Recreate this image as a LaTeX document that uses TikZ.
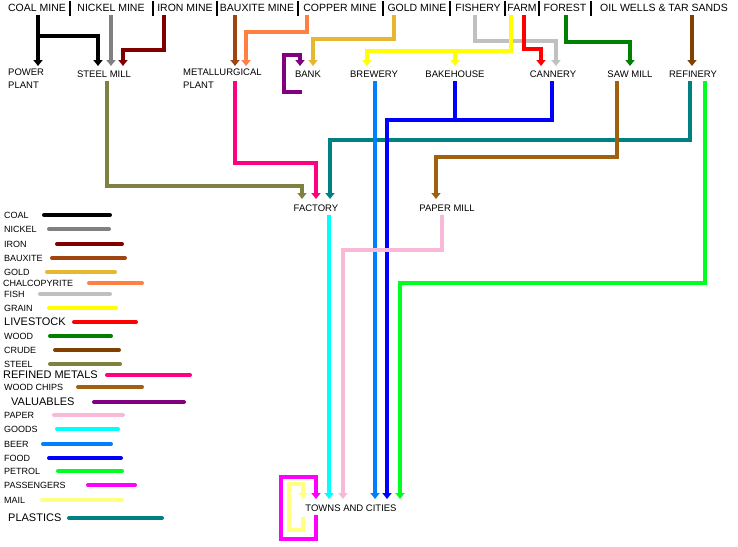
\documentclass[tikz,border=0pt]{standalone}
\usepackage{fontspec}
\setmainfont{Liberation Sans}
\usetikzlibrary{arrows.meta}
\definecolor{cnickel}{HTML}{808080}
\definecolor{ciron}{HTML}{800000}
\definecolor{cbaux}{HTML}{A0450F}
\definecolor{cgold}{HTML}{E6B832}
\definecolor{ccopper}{HTML}{FF8040}
\definecolor{cfish}{HTML}{C0C0C0}
\definecolor{cgrain}{HTML}{FFFF00}
\definecolor{clive}{HTML}{FF0000}
\definecolor{cwood}{HTML}{008000}
\definecolor{ccrude}{HTML}{804000}
\definecolor{csteel}{HTML}{808040}
\definecolor{crefined}{HTML}{FF0080}
\definecolor{cchips}{HTML}{A06010}
\definecolor{cval}{HTML}{800080}
\definecolor{cpaper}{HTML}{F8B8D8}
\definecolor{cgoods}{HTML}{00FFFF}
\definecolor{cbeer}{HTML}{0080FF}
\definecolor{cfood}{HTML}{0000FF}
\definecolor{cpetrol}{HTML}{00FF20}
\definecolor{cpass}{HTML}{FF00FF}
\definecolor{cmail}{HTML}{FFFF80}
\definecolor{cplast}{HTML}{008080}
\begin{document}
\begin{tikzpicture}[x=1pt,y=-1pt,
  flow/.style={line width=4pt,-{Triangle[width=9pt,length=6pt]}},
  plain/.style={line width=4pt},
  leg/.style={line width=4pt,line cap=round},
  top/.style={font=\fontsize{10.5}{11}\selectfont,inner sep=0pt},
  lab/.style={font=\fontsize{9.5}{13}\selectfont,inner sep=0pt,align=left},
  ltxt/.style={font=\fontsize{9}{10}\selectfont,inner sep=0pt,anchor=west},
  btxt/.style={font=\fontsize{11}{12}\selectfont,inner sep=0pt,anchor=west}]
\useasboundingbox (0,0) rectangle (738,546);
% top sources
\node[top] (coal) at (37,8) {COAL MINE};
\node[top] (nickel) at (111,8) {NICKEL MINE};
\node[top] (iron) at (185,8) {IRON MINE};
\node[top] (baux) at (257,8) {BAUXITE MINE};
\node[top] (copper) at (340,8) {COPPER MINE};
\node[top] (goldm) at (417,8) {GOLD MINE};
\node[top] (fishery) at (478,8) {FISHERY};
\node[top] (farm) at (522,8) {FARM};
\node[top] (forest) at (565,8) {FOREST};
\node[top] (oil) at (664,8) {OIL WELLS \& TAR SANDS};
\foreach \x in {70,153,217,298,383,450,505,539,591}
  \draw[line width=1.3pt] (\x,1) -- (\x,16);
% industry nodes
\node[lab,anchor=north west] (power) at (8,69) {POWER\\PLANT};
\node[lab] (steel) at (104,74) {STEEL MILL};
\node[lab,anchor=north west] (metal) at (183,69) {METALLURGICAL\\PLANT};
\node[lab] (bank) at (308,74) {BANK};
\node[lab] (brew) at (374,74) {BREWERY};
\node[lab] (bake) at (455,74) {BAKEHOUSE};
\node[lab] (cann) at (553,74) {CANNERY};
\node[lab] (saw) at (630,74) {SAW MILL};
\node[lab] (ref) at (693,74) {REFINERY};
\node[lab] (fact) at (316,208) {FACTORY};
\node[lab] (pmill) at (447,208) {PAPER MILL};
\node[lab] (towns) at (351,508) {TOWNS AND CITIES};
% primary flows
\draw[flow] (38,15) -- (38,66);
\draw[flow] (38,36) -| (98,66);
\draw[flow,cnickel] (111,15) -- (111,66);
\draw[flow,ciron] (164,15) -- (164,50) -| (123,66);
\draw[flow,cbaux] (235,15) -- (235,66);
\draw[flow,ccopper] (307,15) -- (307,32) -| (246,66);
\draw[flow,cgold] (394,15) -- (394,39) -| (313,66);
\draw[flow,cval] (302,92) -- (284,92) -- (284,55) -| (300,66);
\draw[flow,cfish] (475,15) -- (475,41) -| (556,66);
\draw[flow,cgrain] (511,15) -- (511,51) -| (367,66);
\draw[flow,cgrain] (455,51) -- (455,66);
\draw[flow,clive] (524,15) -- (524,49) -| (541,66);
\draw[flow,cwood] (566,15) -- (566,42) -| (630,66);
\draw[flow,ccrude] (692,15) -- (692,66);
% secondary flows
\draw[flow,csteel] (107,81) -- (107,186) -| (302,199);
\draw[flow,crefined] (235,81) -- (235,163) -| (316,199);
\draw[flow,cplast] (690,81) -- (690,140) -| (330,199);
\draw[flow,cchips] (617,81) -- (617,157) -| (436,199);
\draw[plain,cfood] (455,81) -- (455,120);
\draw[plain,cfood] (552,81) -- (552,120) -- (387,120);
\draw[flow,cfood] (387,118) -- (387,499);
\draw[flow,cbeer] (375,81) -- (375,499);
\draw[flow,cpetrol] (705,81) -- (705,283) -| (400,499);
\draw[flow,cgoods] (329,215) -- (329,499);
\draw[flow,cpaper] (442,215) -- (442,250) -| (343,499);
\draw[plain,cpass] (316,515) -- (316,539) -- (281,539) -- (281,477) -- (316,477);
\draw[flow,cpass] (316,475) -- (316,499);
\draw[plain,cmail] (303,517) -- (303,530) -- (289,530) -- (289,484) -- (303,484);
\draw[flow,cmail] (303,482) -- (303,499);
% legend
\foreach \t/\y/\a/\b/\c/\s in {
 COAL/215/44/110/black/ltxt, NICKEL/229/49/109/cnickel/ltxt, IRON/244/57/122/ciron/ltxt,
 BAUXITE/258/52/125/cbaux/ltxt, GOLD/272/47/115/cgold/ltxt, FISH/294/40/110/cfish/ltxt,
 GRAIN/308/49/116/cgrain/ltxt, LIVESTOCK/322/74/136/clive/btxt, WOOD/336/50/111/cwood/ltxt,
 CRUDE/350/55/119/ccrude/ltxt, STEEL/364/50/120/csteel/ltxt,
 WOOD CHIPS/387/78/142/cchips/ltxt, PAPER/415/54/123/cpaper/ltxt, GOODS/429/57/118/cgoods/ltxt,
 BEER/444/43/111/cbeer/ltxt, FOOD/458/49/121/cfood/ltxt, PETROL/471/58/122/cpetrol/ltxt,
 PASSENGERS/485/88/135/cpass/ltxt, MAIL/500/42/122/cmail/ltxt}
 { \node[\s] at (4,\y) {\t}; \draw[leg,\c] (\a,\y) -- (\b,\y); }
\node[ltxt] (lchal) at (3,283) {CHALCOPYRITE}; \draw[leg,ccopper] (89,283) -- (142,283);
\node[btxt] (lref) at (3,375) {REFINED METALS}; \draw[leg,crefined] (107,375) -- (190,375);
\node[btxt] (lval) at (11,402) {VALUABLES}; \draw[leg,cval] (94,402) -- (184,402);
\node[btxt] (lpla) at (8,518) {PLASTICS}; \draw[leg,cplast] (69,518) -- (162,518);
\end{tikzpicture}
\end{document}
